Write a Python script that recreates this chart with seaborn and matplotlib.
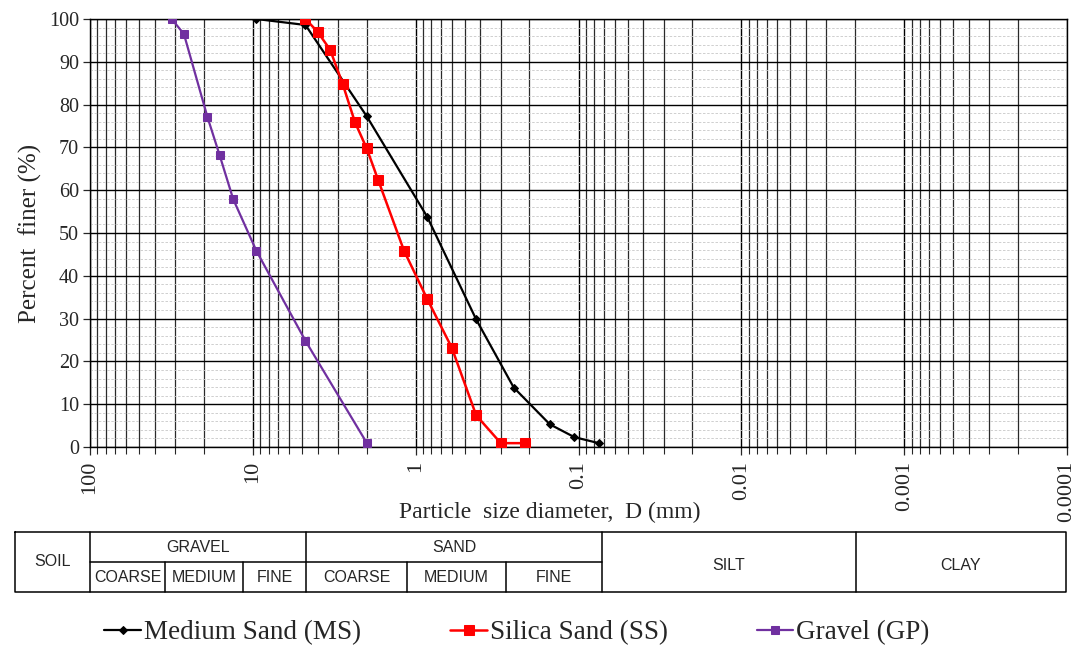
import numpy as np
import pandas as pd
import matplotlib
matplotlib.use("Agg")
import matplotlib.pyplot as plt
from matplotlib.ticker import FixedLocator, FixedFormatter, LogLocator, NullFormatter, MultipleLocator
import seaborn as sns

# ---------------- data ----------------
ms_d = [9.5, 4.75, 2.0, 0.85, 0.425, 0.25, 0.15, 0.106, 0.075]
ms_p = [100, 98.6, 77.3, 53.8, 29.8, 13.9, 5.3, 2.3, 0.9]

ss_d = [4.75, 4.0, 3.35, 2.8, 2.36, 2.0, 1.7, 1.18, 0.85, 0.6, 0.425, 0.3, 0.212]
ss_p = [100, 97.0, 92.8, 84.7, 75.9, 69.8, 62.4, 45.9, 34.6, 23.2, 7.4, 0.9, 0.9]

gp_d = [31.5, 26.5, 19.0, 16.0, 13.2, 9.5, 4.75, 2.0]
gp_p = [100, 96.5, 77.1, 68.2, 57.9, 45.8, 24.8, 1.0]

series_names = ["Medium Sand (MS)", "Silica Sand (SS)", "Gravel (GP)"]
x_ticks = [100, 10, 1, 0.1, 0.01, 0.001, 0.0001]
x_tick_labels = ["100", "10", "1", "0.1", "0.01", "0.001", "0.0001"]
y_ticks = [0, 10, 20, 30, 40, 50, 60, 70, 80, 90, 100]

soil_top = ["GRAVEL", "SAND"]
soil_sub = ["COARSE", "MEDIUM", "FINE", "COARSE", "MEDIUM", "FINE"]
soil_full = ["SILT", "CLAY"]

# ---------------- style ----------------
sns.set_style("white")
plt.rcParams["font.family"] = ["Liberation Serif", "DejaVu Serif"]

df = pd.concat([
    pd.DataFrame({"D": ms_d, "finer": ms_p, "sample": series_names[0]}),
    pd.DataFrame({"D": ss_d, "finer": ss_p, "sample": series_names[1]}),
    pd.DataFrame({"D": gp_d, "finer": gp_p, "sample": series_names[2]}),
])

fig = plt.figure(figsize=(10.77, 6.5), dpi=100)
ax = fig.add_axes([90 / 1077, 1 - 447 / 650, (1067 - 90) / 1077, (447 - 19) / 650])

styles = {
    series_names[0]: dict(color="black", marker="D", markersize=4, linewidth=1.6),
    series_names[1]: dict(color="#FF0000", marker="s", markersize=6.5, linewidth=1.8),
    series_names[2]: dict(color="#7030A0", marker="s", markersize=5.5, linewidth=1.6),
}
for name in series_names:
    sub = df[df["sample"] == name]
    st = styles[name]
    sns.lineplot(data=sub, x="D", y="finer", ax=ax, sort=False, estimator=None,
                 color=st["color"], marker=st["marker"], markersize=st["markersize"],
                 linewidth=st["linewidth"], markeredgecolor=st["color"],
                 label=name, legend=False, zorder=5)

ax.set_xscale("log")
ax.set_xlim(100, 0.0001)
ax.set_ylim(0, 100)

ax.xaxis.set_major_locator(FixedLocator(x_ticks))
ax.xaxis.set_major_formatter(FixedFormatter(x_tick_labels))
ax.xaxis.set_minor_locator(LogLocator(base=10, subs=np.arange(2, 10), numticks=100))
ax.xaxis.set_minor_formatter(NullFormatter())
ax.yaxis.set_major_locator(FixedLocator(y_ticks))
ax.yaxis.set_minor_locator(MultipleLocator(2))

ax.grid(which="major", axis="both", color="black", linewidth=1.0)
ax.grid(which="minor", axis="x", color="#2a2a2a", linewidth=0.9)
ax.grid(which="minor", axis="y", color="#c8c8c8", linewidth=0.6, linestyle=(0, (3, 2)))
ax.set_axisbelow(True)

ax.tick_params(axis="x", which="major", direction="out", length=6, width=0.9,
               labelsize=16, rotation=90, pad=4, bottom=True)
ax.tick_params(axis="x", which="minor", direction="out", length=5, width=0.8, bottom=True)
ax.tick_params(axis="y", which="major", direction="out", length=5, width=0.9,
               labelsize=14.5, left=True, pad=3)
ax.tick_params(axis="y", which="minor", length=0)

for sp in ax.spines.values():
    sp.set_color("black")
    sp.set_linewidth(1.0)

ax.set_xlabel("")
ax.set_ylabel("Percent  finer (%)", fontsize=18, labelpad=5)
fig.text(550 / 1077, 1 - 512 / 650, "Particle  size diameter,  D (mm)", fontsize=17,
         ha="center", va="center")

# ---------------- soil classification table ----------------
tx = fig.add_axes([0, 0, 1, 1], zorder=-1)
tx.set_xlim(0, 1077)
tx.set_ylim(650, 0)
tx.axis("off")
lk = dict(color="black", linewidth=1.1)
x0, x1, y0, ym, y1 = 15, 1066, 532, 562, 592
tx.plot([x0, x1, x1, x0, x0], [y0, y0, y1, y1, y0], **lk)
for xv in [90, 306, 602, 856]:
    tx.plot([xv, xv], [y0, y1], **lk)
tx.plot([90, 602], [ym, ym], **lk)
for xv in [165, 243, 407, 506]:
    tx.plot([xv, xv], [ym, y1], **lk)
sf = dict(family=["Liberation Sans", "DejaVu Sans"], fontsize=11.5, ha="center", va="center")
tx.text(53, 562, "SOIL", **sf)
tx.text(198, 548, soil_top[0], **sf)
tx.text(454, 548, soil_top[1], **sf)
sub_centers = [127.5, 204, 274.5, 356.5, 456.5, 554]
for xc, lab in zip(sub_centers, soil_sub):
    tx.text(xc, 578, lab, **sf)
tx.text(729, 565, soil_full[0], **sf)
tx.text(961, 565, soil_full[1], **sf)

# ---------------- legend ----------------
handles, labels = ax.get_legend_handles_labels()
fig.legend(handles, labels, loc="center", bbox_to_anchor=(517 / 1077, 1 - 633 / 650),
           ncol=3, frameon=False, fontsize=19.5, handlelength=1.35, handletextpad=0.1,
           columnspacing=3.3, borderaxespad=0)

fig.savefig("out.png", dpi=100)
